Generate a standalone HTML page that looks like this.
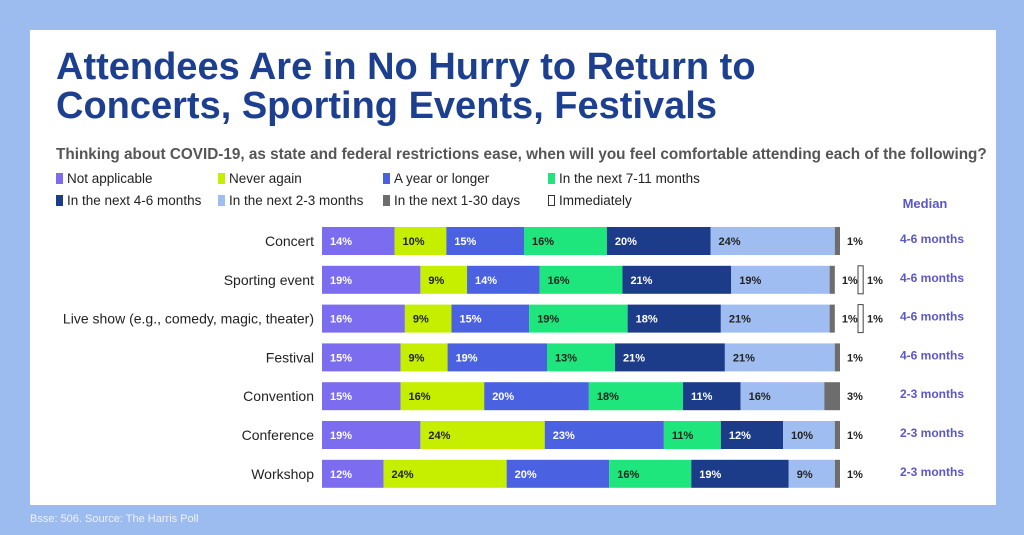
<!DOCTYPE html>
<html><head><meta charset="utf-8"><style>
body{margin:0;width:1024px;height:535px;background:#9cbbef;font-family:"Liberation Sans",sans-serif;position:relative;overflow:hidden}
#panel{position:absolute;left:30px;top:30px;width:966px;height:475px;background:#fff}
h1{position:absolute;left:56px;top:48px;margin:0;font-size:38px;line-height:39px;color:#1d3f8f;font-weight:bold;letter-spacing:0px}
.sub{position:absolute;left:56px;top:146px;font-size:15.3px;font-weight:bold;color:#555}
.leg{position:absolute;font-size:13.5px;color:#222}
.leg i{display:inline-block;width:7px;height:11px;margin-right:4px;vertical-align:-1px}
.foot{position:absolute;left:30px;top:513px;font-size:11px;color:#eef3fc}
</style></head><body>
<div id="panel"></div>
<h1>Attendees Are in No Hurry to Return to<br>Concerts, Sporting Events, Festivals</h1>
<div class="sub">Thinking about COVID-19, as state and federal restrictions ease, when will you feel comfortable attending each of the following?</div>
<div id="legend"></div>
<svg id="chart" width="1024" height="535" style="position:absolute;left:0;top:0"></svg>
<div class="foot">Bsse: 506. Source: The Harris Poll</div>
<script>
const categories=["Concert","Sporting event","Live show (e.g., comedy, magic, theater)","Festival","Convention","Conference","Workshop"];
const notApplicable=[14,19,16,15,15,19,12];
const neverAgain=[10,9,9,9,16,24,24];
const yearOrLonger=[15,14,15,19,20,23,20];
const next7to11=[16,16,19,13,18,11,16];
const next4to6=[20,21,18,21,11,12,19];
const next2to3=[24,19,21,21,16,10,9];
const next1to30=[1,1,1,1,3,1,1];
const immediately=[0,1,1,0,0,0,0];
const medians=["4-6 months","4-6 months","4-6 months","4-6 months","2-3 months","2-3 months","2-3 months"];
const seriesNames=["Not applicable","Never again","A year or longer","In the next 7-11 months","In the next 4-6 months","In the next 2-3 months","In the next 1-30 days","Immediately"];
const colors=["#7b6cf0","#c6ef00","#4a62e2","#1ee67c","#1c3b88","#9fbdf0","#6d6d6d","#fff"];
const textColors=["#fff","#222","#fff","#222","#fff","#222","#222","#222"];
const series=[notApplicable,neverAgain,yearOrLonger,next7to11,next4to6,next2to3,next1to30];
const NS="http://www.w3.org/2000/svg";
const svg=document.getElementById('chart');
const x0=322,fullWidth=518,rowTop=227,pitch=38.8,bh=28;
const yr=i=>rowTop+i*pitch;
function mk(t,a){const e=document.createElementNS(NS,t);for(const k in a)e.setAttribute(k,a[k]);svg.appendChild(e);return e;}
const leg=document.getElementById('legend');
const lx=[56,218,383,548],ly=[171,193];
seriesNames.forEach((n,k)=>{const d=document.createElement('div');d.className='leg';


d.style.left=lx[k%4]+'px';d.style.top=ly[Math.floor(k/4)]+'px';
d.innerHTML='<i style="background:'+colors[k]+(k==7?';border:1px solid #333;width:5px;height:9px':'')+'"></i>'+n;leg.appendChild(d);});
const med=mk('text',{x:925,y:208,'font-size':13,'font-weight':'bold',fill:'#5b56c9','text-anchor':'middle'});med.textContent='Median';


categories.forEach((c,i)=>{
 const y=yr(i);
 let total=immediately[i];series.forEach(s=>total+=s[i]);
 const xs=v=>v*fullWidth/total;
 const lab=mk('text',{x:314,y:y+bh/2+5,'font-size':14,fill:'#222','text-anchor':'end'});lab.textContent=c;
 
 
 let x=x0;
 series.forEach((s,k)=>{
  const w=xs(s[i]);
  const r=mk('rect',{x:x,y:y,width:w,height:bh,fill:colors[k]});
  
  
  if(k<6){const t=mk('text',{x:x+8,y:y+bh/2+4,'font-size':11,'font-weight':'bold',fill:textColors[k]});t.textContent=s[i]+'%';
   
   }
  x+=w;
 });
 const t=mk('text',{x:x+7,y:y+bh/2+4,'font-size':11,'font-weight':'bold',fill:'#222'});t.textContent=next1to30[i]+'%';
 
 
 if(immediately[i]>0){
  const b=mk('rect',{x:858,y:y,width:xs(immediately[i]),height:bh,fill:'#fff',stroke:'#444','stroke-width':1});
  
  
  const t2=mk('text',{x:867,y:y+bh/2+4,'font-size':11,'font-weight':'bold',fill:'#222'});t2.textContent=immediately[i]+'%';
  
  
 }
 const m=mk('text',{x:932,y:y+bh/2+2,'font-size':12,'font-weight':'bold',fill:'#5b56c9','text-anchor':'middle'});m.textContent=medians[i];
 
 
});
</script>
</body></html>
